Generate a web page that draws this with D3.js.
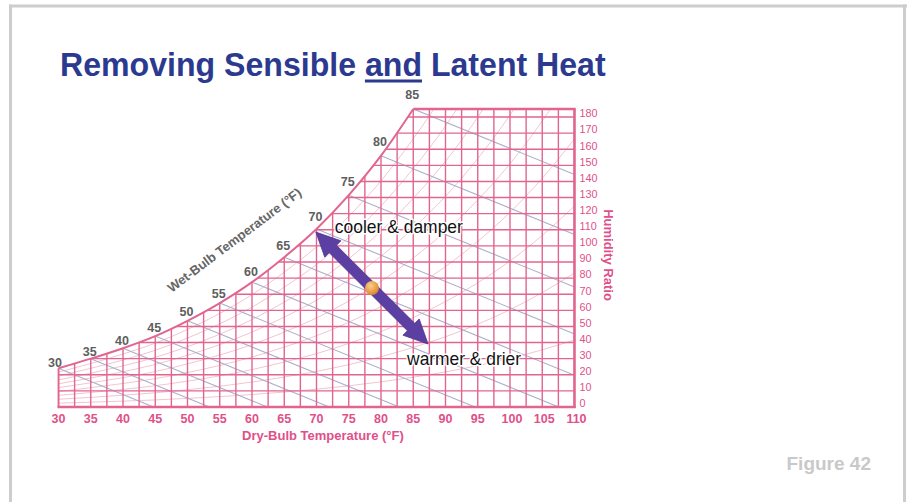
<!DOCTYPE html>
<html><head><meta charset="utf-8">
<script src="https://cdn.jsdelivr.net/npm/d3@7"></script>
<style>
body{margin:0;background:#fff;}
svg{display:block;font-family:"Liberation Sans",Arial,Helvetica,sans-serif;}
</style>
</head><body>
<svg id="chart" width="909" height="502"></svg>
<script>
// ---- data ----
const dryBulbTicks = [30,35,40,45,50,55,60,65,70,75,80,85,90,95,100,105,110];
const humidityTicks = [0,10,20,30,40,50,60,70,80,90,100,110,120,130,140,150,160,170,180];
const satTemps = [30,35,40,45,50,55,60,65,70,75,80,85,90,95,100,105,110];
const satHum   = [24,30,36.5,44,53.5,64.5,77.5,93,110.5,131.5,156,185,218,257,302,355,416];
const wetBulbLabels = [30,35,40,45,50,55,60,65,70,75,80,85];
const rhLevels = [10,20,30,40,50,60,70,80,90];
const wbSlope = 1.63;             // grains per °F along a wet-bulb line
const arrowFrom = [69.9,108.6];   // [°F, grains]
const arrowTo   = [87.3,39.1];
const statePoint = [78.6,73.9];
const titleParts = ["Removing Sensible ", "and", " Latent Heat"];
const figureLabel = "Figure 42";

// ---- setup ----
const svg = d3.select("#chart");
const W = 909, H = 502;
const x = d3.scaleLinear().domain([30,110]).range([58.5,574.5]);
const y = d3.scaleLinear().domain([0,180]).range([407,117]);
const pink = "#e0508a", gridPink = "#e2658f";
const topHum = satHum[satTemps.indexOf(85)];

svg.append("rect").attr("width",W).attr("height",H).attr("fill","#fff");

// frame
const frame = svg.append("g").attr("stroke","#cdcdcd").attr("stroke-width",3).attr("fill","none");
frame.append("line").attr("x1",9).attr("x2",907).attr("y1",6).attr("y2",6);
frame.append("line").attr("x1",10.5).attr("x2",10.5).attr("y1",4.5).attr("y2",H);
frame.append("line").attr("x1",904.5).attr("x2",904.5).attr("y1",4.5).attr("y2",H);

// title
const tg = svg.append("g");
const tText = tg.append("text").attr("x",0).attr("y",0)
  .attr("font-size",34).attr("font-weight","bold").attr("fill","#2b3a8e");
titleParts.forEach(p => tText.append("tspan").text(p));
const tw = tText.node().getComputedTextLength();
const sx = 546 / tw;
tg.attr("transform",`translate(60,76) scale(${sx},1)`);
const aIdx = titleParts[0].length;
const e0 = tText.node().getExtentOfChar(aIdx);
const e1 = tText.node().getExtentOfChar(aIdx + titleParts[1].length - 1);
tg.append("line").attr("x1",e0.x).attr("x2",e1.x+e1.width)
  .attr("y1",5).attr("y2",5).attr("stroke","#2b3a8e").attr("stroke-width",3);

// chart area clip
const satPts = satTemps.map((t,i)=>[t,satHum[i]]).filter(d=>d[0]<=85);
const line = d3.line().x(d=>x(d[0])).y(d=>y(d[1])).curve(d3.curveMonotoneX);
const clipD = line(satPts) + `L${x(110)},${y(topHum)}L${x(110)},${y(0)}L${x(30)},${y(0)}Z`;
svg.append("clipPath").attr("id","area").append("path").attr("d",clipD);

const chart = svg.append("g").attr("clip-path","url(#area)");

// relative humidity curves
const rhLine = d3.line().x(d=>x(d[0])).y(d=>y(d[1])).curve(d3.curveMonotoneX);
chart.append("g").selectAll("path").data(rhLevels).join("path")
  .attr("d", rh => rhLine(satTemps.map((t,i)=>[t, satHum[i]*rh/100])))
  .attr("fill","none").attr("stroke","#f3c4d2").attr("stroke-width",1);

// wet-bulb lines
chart.append("g").selectAll("line").data(wetBulbLabels).join("line")
  .attr("x1", t=>x(t)).attr("y1", t=>y(satHum[satTemps.indexOf(t)]))
  .attr("x2", x(110)).attr("y2", t=>y(satHum[satTemps.indexOf(t)] - wbSlope*(110-t)))
  .attr("stroke","#aab0cc").attr("stroke-width",1.1);

// grid
const vTemps = d3.range(30, 110.001, 2.5);
chart.append("g").selectAll("line").data(vTemps).join("line")
  .attr("x1",d=>x(d)).attr("x2",d=>x(d)).attr("y1",y(0)).attr("y2",y(topHum))
  .attr("stroke",gridPink).attr("stroke-width",1.4);
chart.append("g").selectAll("line").data(humidityTicks.slice(1)).join("line")
  .attr("x1",x(30)).attr("x2",x(110)).attr("y1",d=>y(d)).attr("y2",d=>y(d))
  .attr("stroke",gridPink).attr("stroke-width",1.4);

// borders
const border = svg.append("g").attr("stroke",gridPink).attr("fill","none");
border.append("path").attr("d",line(satPts)).attr("stroke-width",2);
border.append("line").attr("x1",x(30)).attr("x2",x(30)).attr("y1",y(0)).attr("y2",y(satHum[0])).attr("stroke-width",1.8);
border.append("line").attr("x1",x(30)-1).attr("x2",x(110)+1.2).attr("y1",y(0)).attr("y2",y(0)).attr("stroke-width",2.6);
border.append("line").attr("x1",x(110)).attr("x2",x(110)).attr("y1",y(0)+1).attr("y2",y(topHum)).attr("stroke-width",2.6);
border.append("line").attr("x1",x(85)).attr("x2",x(110)+1.2).attr("y1",y(topHum)).attr("y2",y(topHum)).attr("stroke-width",2.4);

// x axis labels
svg.append("g").selectAll("text").data(dryBulbTicks).join("text")
  .attr("x",d=>x(d)+(d>=100?2:0)).attr("y",423).attr("text-anchor","middle")
  .attr("font-size",12.5).attr("font-weight","bold").attr("fill",pink).text(d=>d);
svg.append("text").attr("x",x(71)).attr("y",440).attr("text-anchor","middle")
  .attr("font-size",13).attr("font-weight","bold").attr("fill",pink).text("Dry-Bulb Temperature (°F)");

// right axis labels
svg.append("g").selectAll("text").data(humidityTicks).join("text")
  .attr("x",x(110)+5).attr("y",d=>y(d)-2.5).attr("dominant-baseline","middle")
  .attr("font-size",10.8).attr("fill",pink).text(d=>d);
svg.append("text").attr("transform",`translate(604,255) rotate(90)`).attr("text-anchor","middle")
  .attr("font-size",13).attr("font-weight","bold").attr("fill",pink).text("Humidity Ratio");

// wet-bulb labels
svg.append("g").selectAll("text").data(wetBulbLabels).join("text")
  .attr("x",(t,i)=>x(t)-1 - (i===0?2.5:0))
  .attr("y",(t,i)=>y(satHum[satTemps.indexOf(t)]) - (6 + i*0.8) + 4.5)
  .attr("text-anchor","middle").attr("font-size",12.5).attr("font-weight","bold")
  .attr("fill","#5e5e5e").text(d=>d);
svg.append("text").attr("transform","translate(235,241) rotate(-37)")
  .attr("text-anchor","middle").attr("dominant-baseline","middle")
  .attr("font-size",13).attr("font-weight","bold").attr("fill","#666")
  .text("Wet-Bulb Temperature (°F)");

// arrow
const p0 = [x(arrowFrom[0]), y(arrowFrom[1])], p1 = [x(arrowTo[0]), y(arrowTo[1])];
const len = Math.hypot(p1[0]-p0[0], p1[1]-p0[1]);
const u = [(p1[0]-p0[0])/len, (p1[1]-p0[1])/len], n = [-u[1], u[0]];
const L = 24, HW = 11.5, SW = 5.2;
const pt = (b, a, c) => [b[0]+u[0]*a+n[0]*c, b[1]+u[1]*a+n[1]*c];
const poly = [p0, pt(p0,L,HW), pt(p0,L,SW), pt(p1,-L,SW), pt(p1,-L,HW), p1,
              pt(p1,-L,-HW), pt(p1,-L,-SW), pt(p0,L,-SW), pt(p0,L,-HW)];
svg.append("polygon").attr("points", poly.map(p=>p.join(",")).join(" "))
  .attr("fill","#5b3fa3").attr("stroke","#4e3592").attr("stroke-width",0.8);

const defs = svg.append("defs");
const rg = defs.append("radialGradient").attr("id","dot").attr("cx","40%").attr("cy","35%").attr("r","65%");
rg.append("stop").attr("offset","0%").attr("stop-color","#fbd08a");
rg.append("stop").attr("offset","100%").attr("stop-color","#e0862a");
svg.append("circle").attr("cx",x(statePoint[0])).attr("cy",y(statePoint[1])).attr("r",7)
  .attr("fill","url(#dot)");

// annotations
const ann = svg.append("g").attr("font-size",19).attr("fill","#111")
  .attr("stroke","#fff").attr("stroke-width",3).attr("paint-order","stroke")
  .attr("stroke-linejoin","round");
ann.append("text").attr("x",p0[0]+19).attr("y",p0[1]+1)
  .attr("textLength",128).attr("lengthAdjust","spacingAndGlyphs").text("cooler & damper");
ann.append("text").attr("x",p1[0]-21).attr("y",p1[1]+21)
  .attr("textLength",114).attr("lengthAdjust","spacingAndGlyphs").text("warmer & drier");

// figure label
svg.append("text").attr("x",871).attr("y",470).attr("text-anchor","end")
  .attr("font-size",19).attr("font-weight","bold").attr("fill","#c9c9c9").text(figureLabel);
</script>
</body></html>
